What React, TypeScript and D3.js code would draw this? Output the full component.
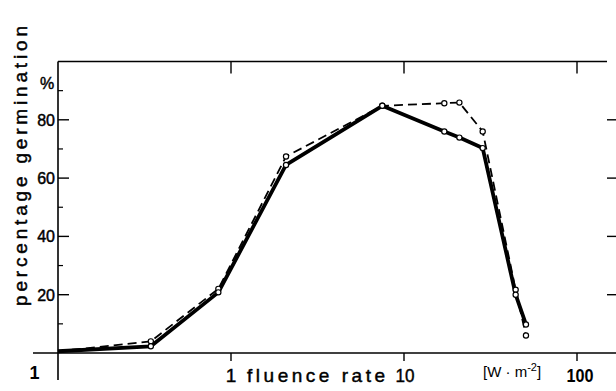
import React from "react";
import * as d3 from "d3";

const fluence = [0.1, 0.344, 0.845, 2.08, 7.49, 17.1, 20.9, 28.5, 44.2, 50.7];
const solidSeries = [0.6, 2.3, 20.8, 64.5, 84.8, 76.0, 73.9, 70.3, 20.0, 9.8];
const dashedSeries = [0.6, 4.0, 22.0, 67.4, 84.8, 85.7, 85.9, 76.0, 21.7, 6.0];
const yMajor = [20, 40, 60, 80];
const yMinor = [10, 30, 50, 70, 90];
const xTicks = [1, 10, 100];

const W = 616;
const H = 391;
const FONT = "'Liberation Sans', Arial, Helvetica, sans-serif";

export default function App() {
  const x = d3.scaleLog().domain([0.1, 100]).range([58, 577]);
  const y = d3.scaleLinear().domain([0, 100]).range([353, 61.5]);

  const line = d3
    .line<number>()
    .x((_, i) => x(fluence[i]))
    .y((d) => y(d));

  const solidPath = line(solidSeries) || "";
  const dashedPath = line(dashedSeries) || "";

  const x0 = x(0.1);
  const yTop = y(100);
  const yBot = y(0);
  const xRight = 616;
  const heavy = { stroke: "#000", strokeWidth: 0.45 };

  return (
    <svg
      width={W}
      height={H}
      style={{ position: "absolute", left: 0, top: 0, background: "#fff" }}
      fontFamily={FONT}
    >
      <rect x={0} y={0} width={W} height={H} fill="#fff" />
      {/* frame */}
      <line x1={x0} x2={x0} y1={yTop} y2={380} stroke="#000" strokeWidth={1.6} />
      <line x1={x0} x2={607} y1={yTop} y2={yTop} stroke="#000" strokeWidth={1.6} />
      <line x1={33} x2={xRight} y1={yBot} y2={yBot} stroke="#000" strokeWidth={1.6} />

      {/* y ticks left and right */}
      {yMajor.map((v) => (
        <g key={"ym" + v}>
          <line x1={x0} x2={x0 + 11} y1={y(v)} y2={y(v)} stroke="#000" strokeWidth={1.4} />
          <line x1={607} x2={616} y1={y(v)} y2={y(v)} stroke="#000" strokeWidth={1.4} />
          <text x={55} y={y(v) + 6} fontSize={16} textAnchor="end" fill="#000" {...heavy}>
            {v}
          </text>
        </g>
      ))}
      {yMinor.map((v) => (
        <line key={"yn" + v} x1={x0} x2={x0 + 5} y1={y(v)} y2={y(v)} stroke="#000" strokeWidth={1.2} />
      ))}
      <text x={40} y={89} fontSize={16} fill="#000" {...heavy}>%</text>

      {/* x ticks top and bottom */}
      {xTicks.map((v) => (
        <g key={"xt" + v}>
          <line x1={x(v)} x2={x(v)} y1={yTop} y2={yTop + 12} stroke="#000" strokeWidth={1.4} />
          <line x1={x(v)} x2={x(v)} y1={yBot} y2={yBot + 8} stroke="#000" strokeWidth={1.4} />
        </g>
      ))}

      {/* x labels */}
      <text x={x(1)} y={382} fontSize={19} textAnchor="middle" fill="#000" {...heavy}>1</text>
      <text x={247} y={382} fontSize={19} textLength={138} lengthAdjust="spacing" fill="#000" {...heavy}>
        fluence rate
      </text>
      <text x={x(10) + 1} y={382} fontSize={19} textAnchor="middle" textLength={19} lengthAdjust="spacingAndGlyphs" fill="#000" {...heavy}>
        10
      </text>
      <text x={483} y={377} fontSize={15} fill="#000">
        [W · m
        <tspan dy={-6} fontSize={11}>-2</tspan>
        <tspan dy={6}>]</tspan>
      </text>
      <text x={x(100) + 3} y={382} fontSize={19} fontWeight="bold" textAnchor="middle" textLength={27} lengthAdjust="spacingAndGlyphs" fill="#000">
        100
      </text>
      <text x={34.5} y={379} fontSize={18} fontWeight="bold" textAnchor="middle" fill="#000">1</text>

      {/* y axis title */}
      <text
        transform={`translate(27, 166) rotate(-90)`}
        fontSize={19}
        textAnchor="middle"
        textLength={280}
        lengthAdjust="spacing"
        fill="#000"
        {...heavy}
      >
        percentage germination
      </text>

      {/* series */}
      <path d={dashedPath} fill="none" stroke="#000" strokeWidth={1.8} strokeDasharray="9 5" />
      <path d={solidPath} fill="none" stroke="#000" strokeWidth={3.8} strokeLinejoin="round" />

      {dashedSeries.map((v, i) =>
        i === 0 ? null : (
          <circle key={"dc" + i} cx={x(fluence[i])} cy={y(v)} r={2.6} fill="#fff" stroke="#000" strokeWidth={1.2} />
        )
      )}
      {solidSeries.map((v, i) =>
        i === 0 ? null : (
          <circle key={"sc" + i} cx={x(fluence[i])} cy={y(v)} r={2.6} fill="#fff" stroke="#000" strokeWidth={1.2} />
        )
      )}
    </svg>
  );
}
